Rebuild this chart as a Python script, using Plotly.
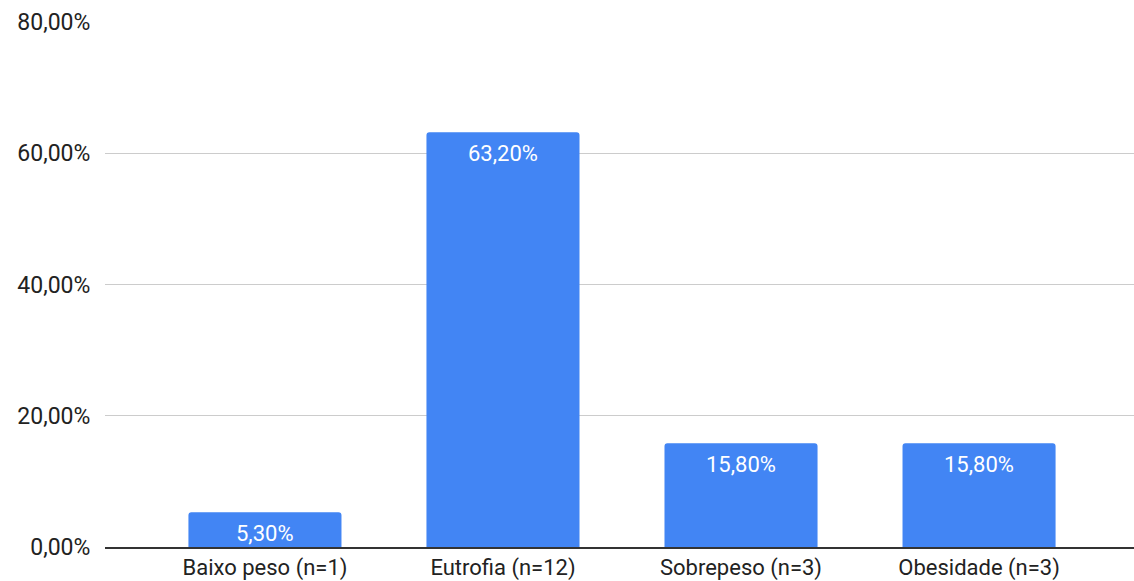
import plotly.graph_objects as go

categories = ["Baixo peso (n=1)", "Eutrofia (n=12)", "Sobrepeso (n=3)", "Obesidade (n=3)"]
values = [5.30, 63.20, 15.80, 15.80]
labels = ["5,30%", "63,20%", "15,80%", "15,80%"]
tick_vals = [0, 20, 40, 60, 80]
tick_text = ["0,00%", "20,00%", "40,00%", "60,00%", "80,00%"]

xs = list(range(len(categories)))

fig = go.Figure(go.Bar(
    x=xs,
    y=values,
    marker=dict(color="#4285F4", line=dict(width=0)),
    width=0.643,
    hoverinfo="skip",
))

for x, v, t in zip(xs, values, labels):
    fig.add_annotation(
        x=x, y=v, text=t, showarrow=False,
        yanchor="top", yshift=-7,
        font=dict(color="white", size=22, family="Roboto"),
    )

fig.update_layout(
    width=1134, height=581,
    margin=dict(l=105, r=0, t=22, b=34),
    paper_bgcolor="white", plot_bgcolor="white",
    font=dict(family="Roboto", size=23, color="#222222"),
    showlegend=False,
    barcornerradius=3,
)
fig.update_xaxes(
    range=[-0.672, 3.651],
    tickmode="array", tickvals=xs, ticktext=categories,
    tickfont=dict(size=22),
    showgrid=False, showline=True, linecolor="#333333", linewidth=2,
    ticks="", ticklabelstandoff=0,
    zeroline=False, automargin=False,
)
fig.update_yaxes(
    range=[0, 80],
    tickmode="array", tickvals=tick_vals, ticktext=tick_text,
    showgrid=True, gridcolor="#cccccc", gridwidth=1,
    zeroline=False, showline=False,
    ticks="outside", ticklen=9, tickcolor="rgba(0,0,0,0)",
    automargin=False,
)

fig.write_html("out.html")
